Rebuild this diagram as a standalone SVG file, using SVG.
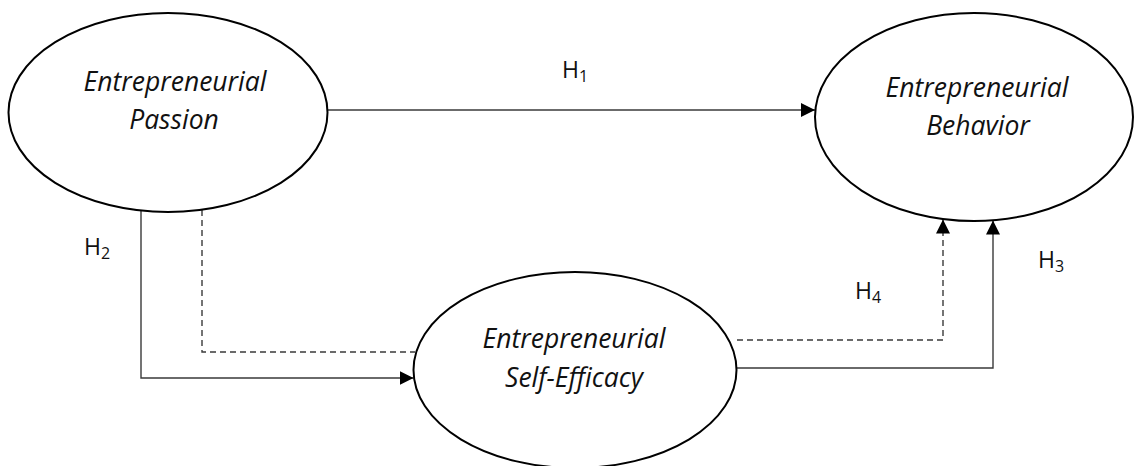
<svg xmlns="http://www.w3.org/2000/svg" width="1135" height="466" viewBox="0 0 1135 466">
<style>
.node{fill:#fff;stroke:#000;stroke-width:2}
.nt{font-family:"Open Sans","Noto Sans",sans-serif;font-style:italic;font-size:26.5px;fill:#111;text-anchor:middle}
.lbl{font-family:"Open Sans","Noto Sans",sans-serif;font-size:23px;fill:#111}
.sub{font-size:16px}
.c{fill:none;stroke:#3a3a3a;stroke-width:1.4}
.d{stroke-dasharray:6 4}
</style>
<defs>
<marker id="ah" markerUnits="userSpaceOnUse" markerWidth="15" markerHeight="15" refX="14" refY="7" orient="auto">
<path d="M0,0 L14,7 L0,14 Z" fill="#000"/>
</marker>
</defs>
<g id="connectors">
<path class="c" d="M328 110 H815" marker-end="url(#ah)"/>
<path class="c" d="M141 211 V378 H413.5" marker-end="url(#ah)"/>
<path class="c d" d="M202 210 V352 H415"/>
<path class="c" d="M737 368 H993 V220.5" marker-end="url(#ah)"/>
<path class="c d" d="M737 340 H943 V219.5" marker-end="url(#ah)"/>
</g>
<g id="passion">
<ellipse class="node" cx="168" cy="112.5" rx="159.5" ry="99.5"/>
<text class="nt" x="175" y="91">Entrepreneurial</text>
<text class="nt" x="174" y="129">Passion</text>
</g>
<g id="behavior">
<ellipse class="node" cx="974" cy="117" rx="159" ry="104"/>
<text class="nt" x="977" y="97">Entrepreneurial</text>
<text class="nt" x="978" y="135">Behavior</text>
</g>
<g id="selfefficacy">
<ellipse class="node" cx="575" cy="370" rx="161.5" ry="98"/>
<text class="nt" x="574" y="348">Entrepreneurial</text>
<text class="nt" x="574" y="387">Self-Efficacy</text>
</g>
<g id="labels">
<text class="lbl" x="562" y="78">H<tspan class="sub" dy="4">1</tspan></text>
<text class="lbl" x="84" y="255">H<tspan class="sub" dy="4">2</tspan></text>
<text class="lbl" x="1038" y="268">H<tspan class="sub" dy="4">3</tspan></text>
<text class="lbl" x="855" y="299">H<tspan class="sub" dy="4">4</tspan></text>
</g>
</svg>
